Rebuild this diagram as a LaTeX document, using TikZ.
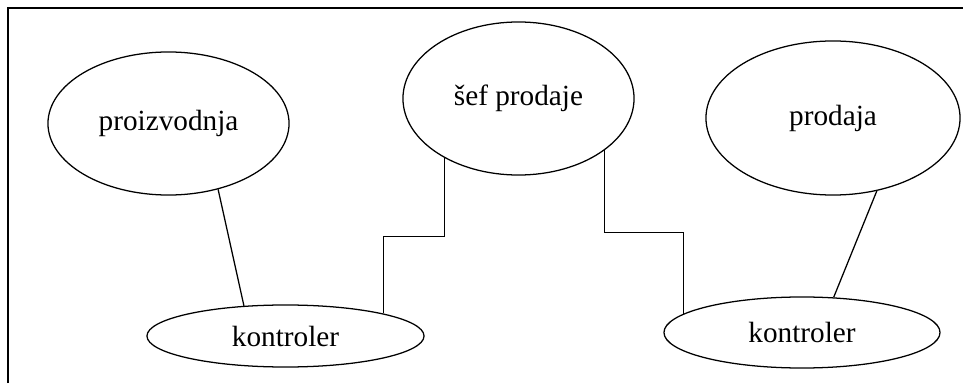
\documentclass[tikz,border=0pt]{standalone}
\usepackage{fontspec}
\setmainfont{Liberation Serif}
\usetikzlibrary{shapes.geometric}

\begin{document}
\begin{tikzpicture}[x=0.025cm, y=0.025cm, line width=0.9pt,
  every node/.style={font=\fontsize{20.8}{25}\selectfont},
  unit/.style={draw, ellipse, inner sep=0pt}]

\useasboundingbox (0,0) rectangle (963,383);
\draw[line width=1.4pt] (8,0) -- (8,375) -- (963,375);

\node[unit, minimum width=6.025cm, minimum height=3.575cm] (proizvodnja) at (168.5,259.5) {proizvodnja};
\node[unit, minimum width=5.775cm, minimum height=3.825cm] (sef) at (518.5,284.5) {šef prodaje};
\node[unit, minimum width=6.35cm, minimum height=3.85cm] (prodaja) at (833,265) {prodaja};
\node[unit, minimum width=6.925cm, minimum height=1.55cm] (kontrolerA) at (285.5,47) {kontroler};
\node[unit, minimum width=6.9cm, minimum height=1.775cm] (kontrolerB) at (802,50.5) {kontroler};

\draw (proizvodnja.-53.3) -- (kontrolerA.144.5);
\draw (sef.219.8) -- ++(0,-78) -| (kontrolerA.13);
\draw (sef.-31) -- ++(0,-82) -| (kontrolerB.171.2);
\draw (prodaja.-59.3) -- (kontrolerB.48.9);

\end{tikzpicture}
\end{document}
